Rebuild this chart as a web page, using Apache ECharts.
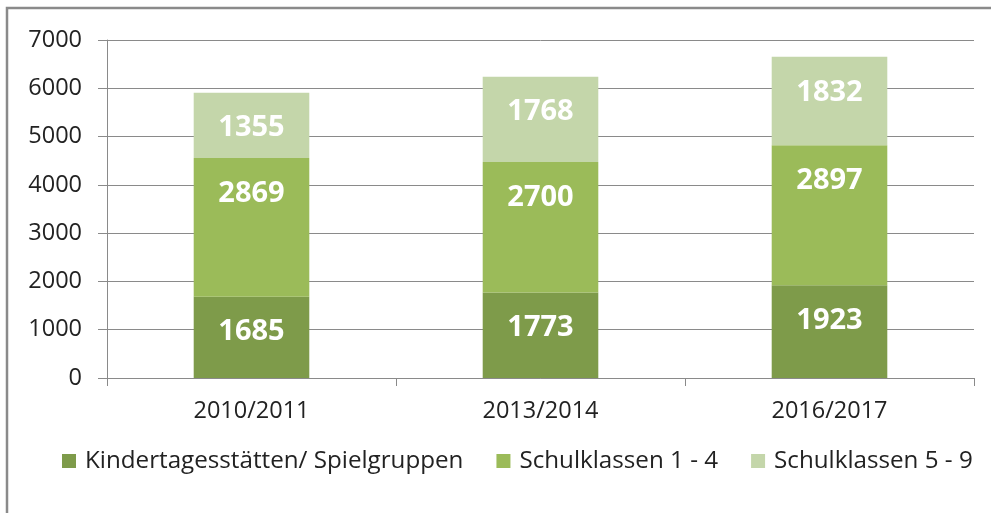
<!DOCTYPE html>
<html>
<head>
<meta charset="utf-8">
<script src="https://cdn.jsdelivr.net/npm/echarts@6/dist/echarts.min.js"></script>
<style>
html,body{margin:0;padding:0;background:#fff;}
#container_chart{width:991px;height:513px;}
</style>
</head>
<body>
<div id="container_chart"></div>
<script>
var categories = ['2010/2011', '2013/2014', '2016/2017'];
var seriesNames = ['Kindertagesstätten/ Spielgruppen', 'Schulklassen 1 - 4', 'Schulklassen 5 - 9'];
var kitaValues = [1685, 1773, 1923];
var klasse14Values = [2869, 2700, 2897];
var klasse59Values = [1355, 1768, 1832];
var yTicks = [0, 1000, 2000, 3000, 4000, 5000, 6000, 7000];

var colors = ['#7e9b4a', '#9bbb59', '#c4d6aa'];
var fontName = '"Open Sans", sans-serif';

var myChart = echarts.init(document.getElementById('container_chart'));

function makeSeries(name, data, color) {
	return {
		name: name,
		type: 'bar',
		stack: 'total',
		data: data,
		barWidth: '40%',
		itemStyle: { color: color },
		label: {
			show: true,
			position: 'insideTop',
			distance: 21,
			color: '#fff',
			fontFamily: fontName,
			fontWeight: 'bold',
			fontSize: 29
		}
	};
}

var option = {
	animation: false,
	grid: {
		left: 107,
		right: 17,
		top: 40,
		bottom: 135
	},
	// Rahmen
	graphic: [{
		type: 'rect',
		shape: { x: 7, y: 8, width: 1100, height: 700 },
		style: { fill: 'none', stroke: '#8a8a8a', lineWidth: 2.5 },
		silent: true
	}],
	legend: {
		top: 444,
		left: 57,
		itemWidth: 14,
		itemHeight: 14,
		itemGap: 33,
		icon: 'rect',
		textStyle: {
			color: '#222',
			fontFamily: fontName,
			fontSize: 24.2,
			padding: [0, 0, 0, 4]
		},
		data: seriesNames
	},
	xAxis: {
		type: 'category',
		data: categories,
		axisLine: { lineStyle: { color: '#8a8a8a', width: 1 } },
		axisTick: { show: true, length: 8, lineStyle: { color: '#8a8a8a' } },
		axisLabel: {
			color: '#222',
			fontFamily: fontName,
			fontSize: 23.5,
			margin: 21
		}
	},
	yAxis: {
		type: 'value',
		min: yTicks[0],
		max: yTicks[yTicks.length - 1],
		interval: 1000,
		axisLine: { show: true, lineStyle: { color: '#8a8a8a', width: 1 } },
		axisTick: { show: true, length: 9, lineStyle: { color: '#8a8a8a' } },
		axisLabel: {
			color: '#222',
			fontFamily: fontName,
			fontSize: 23.5,
			margin: 25,
			formatter: function (v) { return String(v); }
		},
		splitLine: { lineStyle: { color: '#8a8a8a', width: 1 } }
	},
	series: [
		makeSeries(seriesNames[0], kitaValues, colors[0]),
		makeSeries(seriesNames[1], klasse14Values, colors[1]),
		makeSeries(seriesNames[2], klasse59Values, colors[2])
	]
};

myChart.setOption(option);
window.onresize = myChart.resize;
</script>
</body>
</html>
